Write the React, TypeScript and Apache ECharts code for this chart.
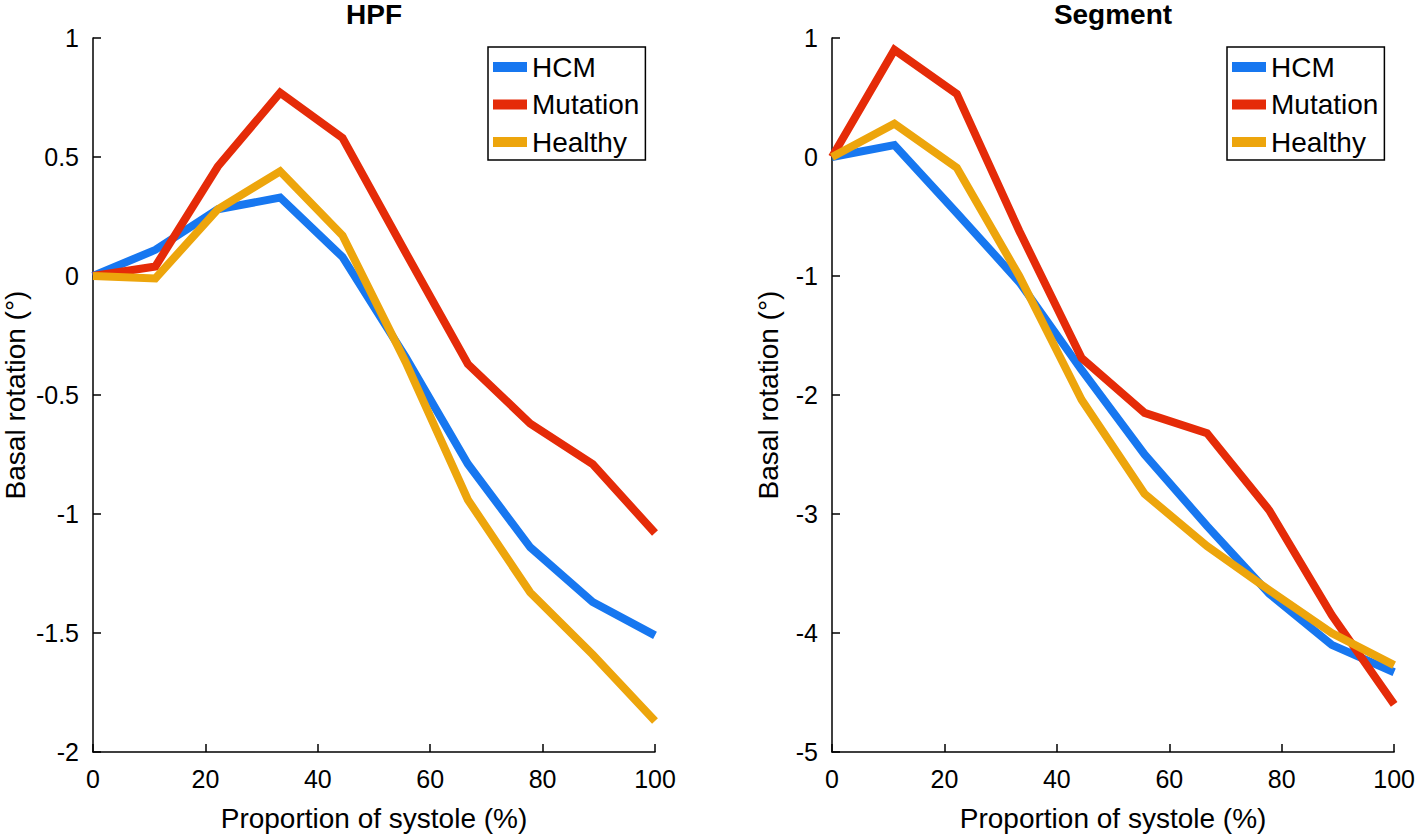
import React, { useEffect, useRef } from "react";
import * as echarts from "echarts";

const xValues = [0, 11.1, 22.2, 33.3, 44.4, 55.6, 66.7, 77.8, 88.9, 100];
const seriesNames = ["HCM", "Mutation", "Healthy"];
const colors = ["#1777F0", "#E52B08", "#EDA50C"];

const hpfHCM = [0, 0.11, 0.28, 0.33, 0.08, -0.34, -0.79, -1.14, -1.37, -1.51];
const hpfMutation = [0, 0.04, 0.46, 0.77, 0.58, 0.1, -0.37, -0.62, -0.79, -1.08];
const hpfHealthy = [0, -0.01, 0.28, 0.44, 0.17, -0.36, -0.94, -1.33, -1.59, -1.87];

const segHCM = [0, 0.1, -0.47, -1.05, -1.79, -2.5, -3.1, -3.67, -4.1, -4.33];
const segMutation = [0, 0.9, 0.53, -0.62, -1.69, -2.15, -2.32, -2.97, -3.85, -4.6];
const segHealthy = [0, 0.28, -0.09, -1.0, -2.04, -2.83, -3.27, -3.64, -4.0, -4.27];

const titles = ["HPF", "Segment"];
const xName = "Proportion of systole (%)";
const yName = "Basal rotation (°)";

const FONT = "'Liberation Sans', Arial, Helvetica, sans-serif";

export default function App() {
  const ref = useRef<HTMLDivElement>(null);
  useEffect(() => {
    if (!ref.current) return;
    const chart = echarts.init(ref.current, undefined, { renderer: "svg" });
    const pair = (ys: number[]) => xValues.map((x, i) => [x, ys[i]]);
    const data = [
      [hpfHCM, hpfMutation, hpfHealthy],
      [segHCM, segMutation, segHealthy],
    ];
    const grids = [
      { left: 93, right: 763, top: 38, bottom: 86 },
      { left: 832, right: 23, top: 38, bottom: 86 },
    ];
    const axisCommon = {
      axisLine: { show: true, onZero: false, lineStyle: { color: "#000", width: 1.5 } },
      axisTick: { show: true, inside: true, length: 8, lineStyle: { color: "#000", width: 1.5 } },
      splitLine: { show: false },
      axisLabel: { color: "#000", fontSize: 25, fontFamily: FONT },
      nameTextStyle: { color: "#000", fontSize: 28, fontFamily: FONT },
    };
    const series: any[] = [];
    data.forEach((group, gi) => {
      group.forEach((ys, si) => {
        series.push({
          type: "line",
          name: seriesNames[si],
          xAxisIndex: gi,
          yAxisIndex: gi,
          data: pair(ys),
          showSymbol: false,
          symbol: "none",
          lineStyle: { color: colors[si], width: 8, join: "miter" },
          itemStyle: { color: colors[si] },
          z: 2,
        });
      });
    });
    chart.setOption({
      animation: false,
      backgroundColor: "#fff",
      title: titles.map((t, i) => ({
        text: t,
        left: i === 0 ? 374 : 1113,
        top: 0,
        padding: 0,
        textAlign: "center",
        textStyle: { fontSize: 28, fontWeight: "bold", color: "#000", fontFamily: FONT },
      })),
      grid: grids,
      legend: [0, 1].map((i) => ({
        data: seriesNames,
        orient: "vertical",
        left: i === 0 ? 488 : 1227,
        top: 47,
        icon: "rect",
        itemWidth: 34,
        itemHeight: 10,
        itemGap: 9.5,
        padding: [6, 6, 4, 5],
        borderColor: "#000",
        borderWidth: 1.5,
        backgroundColor: "#fff",
        textStyle: { fontSize: 28, color: "#000", fontFamily: FONT },
        selectedMode: false,
      })),
      xAxis: [0, 1].map((i) => ({
        ...axisCommon,
        type: "value",
        gridIndex: i,
        min: 0,
        max: 100,
        interval: 20,
        name: xName,
        nameLocation: "middle",
        nameGap: 52,
        axisLabel: { ...axisCommon.axisLabel, margin: 14 },
      })),
      yAxis: [0, 1].map((i) => ({
        ...axisCommon,
        type: "value",
        gridIndex: i,
        min: i === 0 ? -2 : -5,
        max: 1,
        interval: i === 0 ? 0.5 : 1,
        name: yName,
        nameLocation: "middle",
        nameGap: i === 0 ? 64 : 50,
        nameRotate: 90,
        axisLabel: { ...axisCommon.axisLabel, margin: 14 },
      })),
      series,
    });
    return () => chart.dispose();
  }, []);
  return (
    <div
      ref={ref}
      style={{ position: "fixed", left: 0, top: 0, width: 1418, height: 838 }}
    />
  );
}
